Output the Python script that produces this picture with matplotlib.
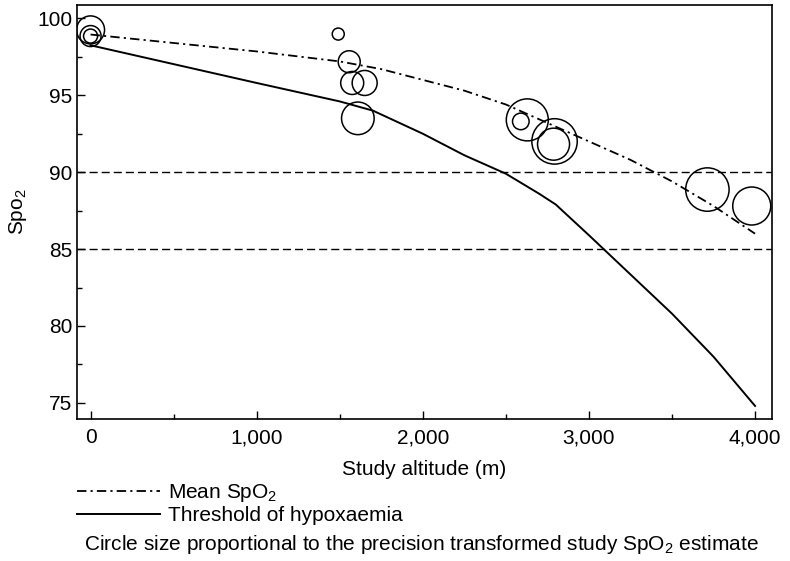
import matplotlib
matplotlib.use("Agg")
import matplotlib.pyplot as plt
from matplotlib.ticker import MultipleLocator, StrMethodFormatter

plt.rcParams['font.family'] = ['Liberation Sans', 'DejaVu Sans']
plt.rcParams['mathtext.default'] = 'regular'

# study estimates (altitude m, SpO2 %, relative precision -> circle radius)
study_alt = [0, 0, 0, 1491, 1557, 1575, 1650, 1609, 2629, 2590, 2793, 2787, 3713, 3980]
study_spo2 = [99.25, 98.85, 98.85, 98.98, 97.18, 95.8, 95.8, 93.5, 93.4, 93.3, 92.0, 91.82, 88.87, 87.8]
precision = [14, 10.5, 7, 6, 11, 11.5, 12.5, 16.3, 21, 8.3, 22.7, 16, 21.7, 19]

# mean SpO2 curve
mean_alt = [0, 500, 1000, 1500, 1750, 2000, 2250, 2500, 2750, 3000, 3250, 3500, 3750, 4000]
mean_spo2 = [98.95, 98.4, 97.85, 97.2, 96.7, 96.0, 95.3, 94.4, 93.2, 92.0, 90.8, 89.4, 87.8, 86.0]

# threshold of hypoxaemia
thr_alt = [0, 1000, 1500, 1700, 2000, 2250, 2500, 2700, 2800, 3000, 3500, 3750, 4000]
thr_spo2 = [98.25, 95.8, 94.6, 94.0, 92.5, 91.1, 89.9, 88.6, 87.9, 85.9, 80.8, 78.0, 74.8]

cutoffs = [90, 85]

fig = plt.figure(figsize=(7.9, 5.61), dpi=100)
ax = fig.add_axes([0.0978, 0.2531, 0.879, 0.738])

for c in cutoffs:
    ax.axhline(c, color='black', lw=1.0, linestyle=(0, (5.8, 2.9)), zorder=1)

mean_line, = ax.plot(mean_alt, mean_spo2, color='black', lw=1.3,
                     linestyle=(0, (5.2, 2.3, 1.2, 2.3)), label='Mean SpO$_2$')
thr_line, = ax.plot(thr_alt, thr_spo2, color='black', lw=1.4,
                    label='Threshold of hypoxaemia')

sizes = [(1.44 * p) ** 2 for p in precision]
ax.scatter(study_alt, study_spo2, s=sizes, facecolors='none',
           edgecolors='black', linewidths=1.1, zorder=3)

ax.set_xlim(-80, 4100)
ax.set_ylim(73.95, 100.87)
ax.xaxis.set_major_locator(MultipleLocator(1000))
ax.xaxis.set_minor_locator(MultipleLocator(500))
ax.yaxis.set_major_locator(MultipleLocator(5))
ax.yaxis.set_minor_locator(MultipleLocator(2.5))
ax.xaxis.set_major_formatter(StrMethodFormatter('{x:,.0f}'))
ax.tick_params(which='both', direction='in', labelsize=15, width=1)
ax.tick_params(axis='x', which='both', pad=6.5)
ax.tick_params(which='major', length=6)
ax.tick_params(which='minor', length=3.5)
for sp in ax.spines.values():
    sp.set_linewidth(1.2)

ax.set_xlabel('Study altitude (m)', fontsize=15, labelpad=9.5)
ax.set_ylabel('Spo$_2$', fontsize=15, labelpad=6)

fig.legend(handles=[mean_line, thr_line], loc='upper left',
           bbox_to_anchor=(0.097, 1 - 482 / 561), frameon=False, fontsize=15,
           handlelength=4.0, handletextpad=0.4, labelspacing=0.1,
           borderpad=0, borderaxespad=0)

fig.text(0.533, 1 - 545 / 561,
         'Circle size proportional to the precision transformed study SpO$_2$ estimate',
         ha='center', va='center', fontsize=15)

fig.savefig('out.png', dpi=100)
